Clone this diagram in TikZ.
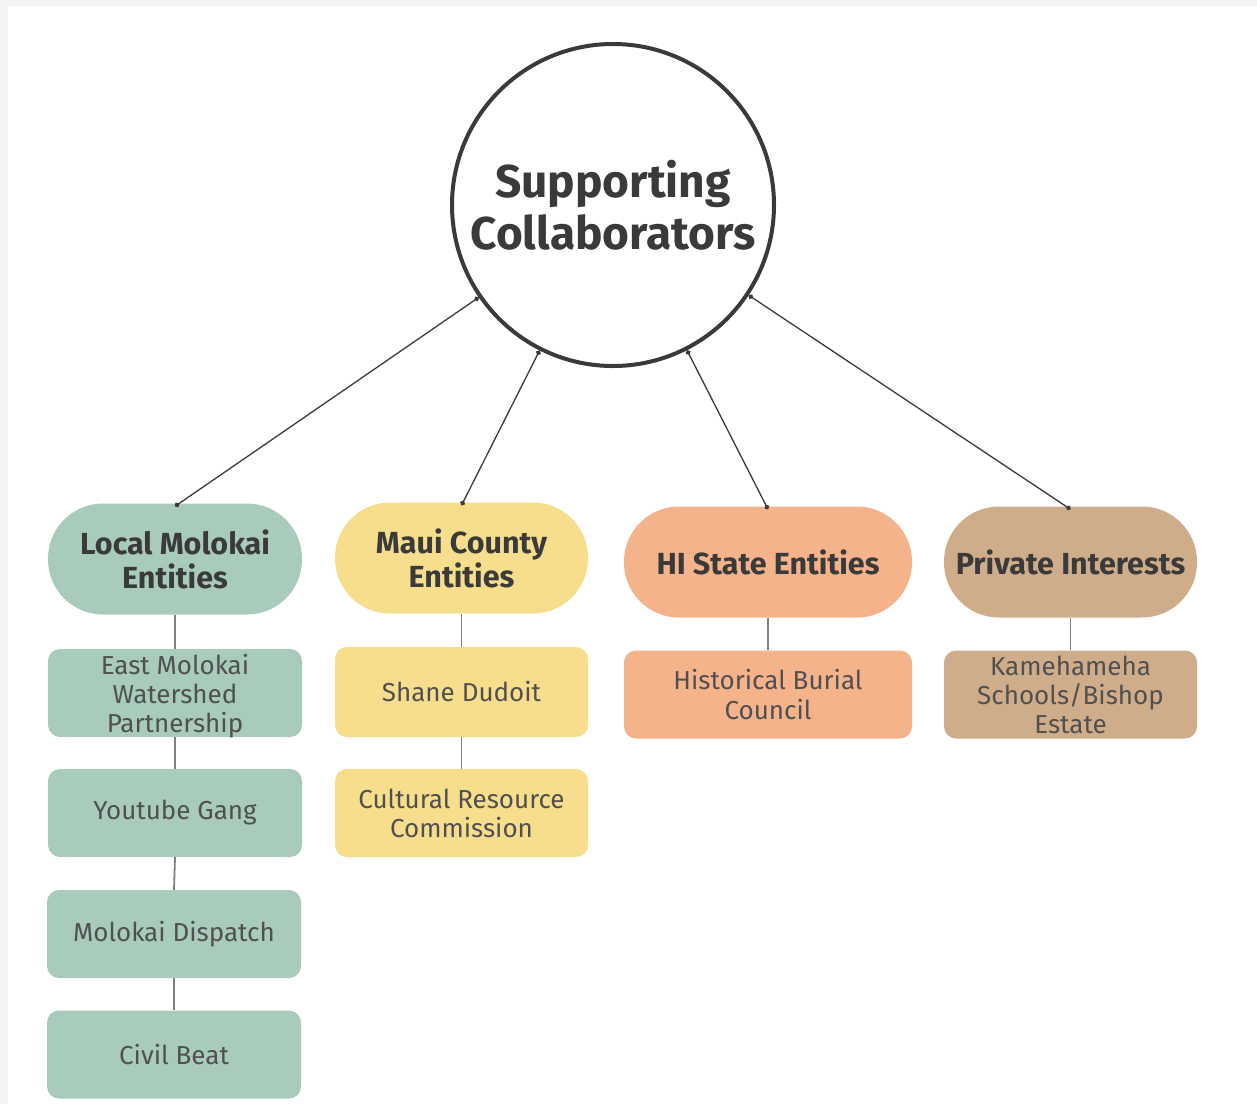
\documentclass[tikz,border=0pt]{standalone}
\usepackage{fontspec}
\setmainfont{Fira Sans}
\usetikzlibrary{arrows.meta}
\definecolor{cgreen}{HTML}{A8CBBC}
\definecolor{cyellow}{HTML}{F7DE8C}
\definecolor{corange}{HTML}{F4B38A}
\definecolor{ctan}{HTML}{D0AD8A}
\definecolor{ctext}{HTML}{3A3A3A}
\definecolor{csub}{HTML}{505050}
\definecolor{cframe}{HTML}{F4F4F4}
\tikzset{
  hub/.style={circle, draw=ctext, line width=4pt, fill=white, minimum size=322pt, inner sep=0pt,
    align=center, text=ctext, font=\fontsize{46}{52}\selectfont\bfseries},
  headbox/.style={rectangle, rounded corners=55pt, draw=none, minimum height=111pt, inner sep=0pt,
    align=center, text=ctext, font=\fontsize{30.5}{34}\selectfont\bfseries},
  itembox/.style={rectangle, rounded corners=12pt, draw=none, minimum height=88pt, inner sep=0pt,
    align=center, text=csub, font=\fontsize{26}{29}\selectfont},
  conn/.style={draw=ctext, line width=1.3pt, {Circle[length=5pt]}-{Circle[length=5pt]}},
  link/.style={draw=black!50, line width=1.8pt}
}
\begin{document}
\begin{tikzpicture}[x=1pt,y=-1pt]
\fill[cframe] (0,0) rectangle (1257,1104);
\fill[white] (8,6) rectangle (1257,1104);
\useasboundingbox (0,0) rectangle (1257,1104);

\node[hub] (circ) at (613,205) {Supporting\\Collaborators};

\node[headbox, fill=cgreen, minimum width=254pt] (lme) at (175,559) {Local Molokai\\Entities};
\node[headbox, fill=cyellow, minimum width=253pt] (mce) at (461.5,558) {Maui County\\Entities};
\node[headbox, fill=corange, minimum width=288pt] (hse) at (768,562) {HI State Entities};
\node[headbox, fill=ctan, minimum width=253pt] (pri) at (1070.5,562) {Private Interests};

\node[itembox, fill=cgreen, minimum width=254pt] (emw) at (175,693) {};
\node[itembox] (emwt) at (175,696) {East Molokai\\Watershed\\Partnership};
\node[itembox, fill=cgreen, minimum width=254pt] (ytg) at (175,813) {Youtube Gang};
\node[itembox, fill=cgreen, minimum width=254pt] (mdp) at (174,934) {Molokai Dispatch};
\node[itembox, fill=cgreen, minimum width=254pt] (cvb) at (174,1054.5) {Civil Beat};

\node[itembox, fill=cyellow, minimum width=253pt, minimum height=90pt] (sdd) at (461.5,692) {Shane Dudoit};
\node[itembox, fill=cyellow, minimum width=253pt] (crc) at (461.5,813) {Cultural Resource\\Commission};

\node[itembox, fill=corange, minimum width=288pt] (hbc) at (768,694.5) {Historical Burial\\Council};
\node[itembox, fill=ctan, minimum width=253pt] (kse) at (1070.5,694.5) {Kamehameha\\Schools/Bishop\\Estate};

\draw[link] (lme.south) -- (emw.north);
\draw[link] (emw.south) -- (ytg.north);
\draw[link] (ytg.south) -- (mdp.north);
\draw[link] (mdp.south) -- (cvb.north);
\draw[link] (mce.south) -- (sdd.north);
\draw[link] (sdd.south) -- (crc.north);
\draw[link] (hse.south) -- (hbc.north);
\draw[link] (pri.south) -- (kse.north);

\draw[conn] ([yshift=-3pt]lme.north) -- (circ);
\draw[conn] ([yshift=-3pt]mce.north) -- (circ);
\draw[conn] ([yshift=-3pt]hse.north) -- (circ);
\draw[conn] ([yshift=-3pt]pri.north) -- (circ);
\end{tikzpicture}
\end{document}
